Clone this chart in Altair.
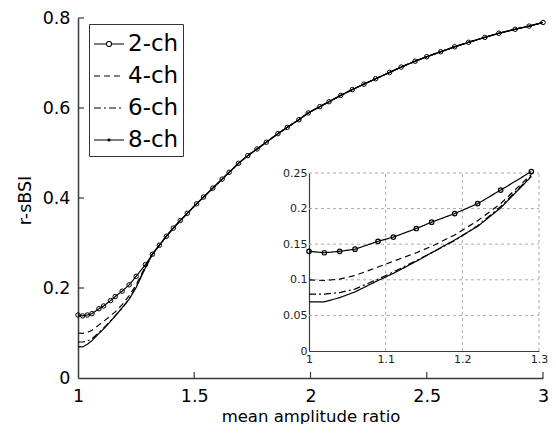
import altair as alt
import pandas as pd

# ---------------- data ----------------
series = ["2-ch", "4-ch", "6-ch", "8-ch"]

x_low = [1.00, 1.02, 1.04, 1.06, 1.09, 1.11, 1.14, 1.16, 1.19, 1.22, 1.25, 1.29]
low_2ch = [0.140, 0.138, 0.140, 0.143, 0.154, 0.160, 0.172, 0.181, 0.193, 0.207, 0.226, 0.252]
low_4ch = [0.100, 0.099, 0.101, 0.106, 0.118, 0.126, 0.138, 0.147, 0.163, 0.183, 0.207, 0.248]
low_6ch = [0.080, 0.080, 0.082, 0.087, 0.101, 0.111, 0.127, 0.138, 0.155, 0.176, 0.203, 0.246]
low_8ch = [0.069, 0.069, 0.075, 0.083, 0.099, 0.109, 0.126, 0.138, 0.156, 0.175, 0.201, 0.245]

x_tail = [1.32, 1.35, 1.38, 1.41, 1.44, 1.47, 1.51, 1.54, 1.58, 1.62, 1.65, 1.69,
          1.73, 1.77, 1.81, 1.86, 1.90, 1.95, 1.99, 2.04, 2.08, 2.13, 2.18, 2.23,
          2.28, 2.34, 2.39, 2.45, 2.50, 2.56, 2.62, 2.68, 2.75, 2.81, 2.88, 2.94, 3.00]
y_tail = [0.275, 0.295, 0.315, 0.333, 0.350, 0.366, 0.387, 0.402, 0.422, 0.442, 0.457, 0.477,
          0.494, 0.509, 0.524, 0.543, 0.557, 0.574, 0.589, 0.603, 0.614, 0.628, 0.641, 0.653,
          0.665, 0.679, 0.691, 0.704, 0.714, 0.725, 0.736, 0.746, 0.757, 0.766, 0.775, 0.782, 0.790]

main_x_domain = [1, 3]
main_y_domain = [0, 0.8]
main_x_ticks = [1, 1.5, 2, 2.5, 3]
main_y_ticks = [0, 0.2, 0.4, 0.6, 0.8]

inset_x_domain = [1, 1.3]
inset_y_domain = [0, 0.25]
inset_x_ticks = [1, 1.1, 1.2, 1.3]
inset_y_ticks = [0, 0.05, 0.1, 0.15, 0.2, 0.25]

# ---------------- styles ----------------
FONT = "DejaVu Sans"
AXIS_COLOR = "#3a3a3a"
DASH = {"2-ch": [1, 0], "4-ch": [6, 4], "6-ch": [7, 3, 2, 3], "8-ch": [1, 0]}
LEGEND_PATHS = {
    "2-ch": "M-1,0H-0.17M0.17,0H1M0.17,0A0.17,0.17 0 1 1 -0.17,0A0.17,0.17 0 1 1 0.17,0",
    "4-ch": "M-1,0H1",
    "6-ch": "M-1,0H1",
    "8-ch": "M-1,0H1M0.07,0A0.07,0.07 0 1 1 -0.07,0A0.07,0.07 0 1 1 0.07,0",
}
W, H = 465, 360
INSET_X_RANGE = [231, 461]
INSET_Y_RANGE = [333, 155]

low = {"2-ch": low_2ch, "4-ch": low_4ch, "6-ch": low_6ch, "8-ch": low_8ch}
rows = []
for s in series:
    for xv, yv in zip(x_low + x_tail, low[s] + y_tail):
        rows.append({"series": s, "x": xv, "y": yv})
df = pd.DataFrame(rows)

# ---------------- main plot ----------------
mx = alt.Scale(domain=main_x_domain, nice=False, zero=False)
my = alt.Scale(domain=main_y_domain, nice=False, zero=False)
ax_x = alt.Axis(values=main_x_ticks, format="~g", ticks=False, tickSize=0, grid=False,
                labelPadding=9, labelFont=FONT, labelFontSize=17.5, labelColor="black",
                labelFlush=False, labelOverlap=False,
                domainColor=AXIS_COLOR, domainWidth=1.5,
                title="mean amplitude ratio", titleFont=FONT, titleFontSize=16.5,
                titleFontWeight="normal", titleColor="black", titleY=43,
                titleBaseline="alphabetic")
ax_y = alt.Axis(values=main_y_ticks, format="~g", ticks=False, tickSize=0, grid=False,
                labelPadding=8, labelFont=FONT, labelFontSize=17.5, labelColor="black",
                labelFlush=False, labelOverlap=False,
                domainColor=AXIS_COLOR, domainWidth=1.5,
                title="r-sBSI", titleFont=FONT, titleFontSize=17.5,
                titleFontWeight="normal", titleColor="black", titleX=-53, titleY=182,
                titleAngle=270, titleBaseline="middle", titleAlign="center")

leg = alt.Legend(orient="none", legendX=11, legendY=6, title=None,
                 strokeColor="#333", fillColor="white", padding=4,
                 labelFont=FONT, labelFontSize=23, labelColor="black", labelOffset=3,
                 symbolSize=900, symbolStrokeWidth=1.1, symbolOpacity=1,
                 symbolStrokeColor="black", symbolFillColor="transparent", rowPadding=4)
dash_scale = alt.Scale(domain=series, range=[DASH[s] for s in series])
shape_scale = alt.Scale(domain=series, range=[LEGEND_PATHS[s] for s in series])

lines = alt.Chart(df).mark_line(strokeWidth=1.2, color="black", opacity=1).encode(
    x=alt.X("x:Q", scale=mx, axis=ax_x),
    y=alt.Y("y:Q", scale=my, axis=ax_y),
    strokeDash=alt.StrokeDash("series:N", scale=dash_scale, legend=leg),
)
pts = alt.Chart(df).transform_filter(alt.datum.series == "2-ch").mark_point(
    shape="circle", size=20, filled=False, color="black", strokeWidth=1, opacity=1
).encode(
    x=alt.X("x:Q", scale=mx, axis=ax_x),
    y=alt.Y("y:Q", scale=my, axis=ax_y),
)
# legend-only layer: gives the legend its line+marker symbols (draws no points)
legend_layer = alt.Chart(df).transform_filter("false").mark_point(
    filled=False, color="black", strokeWidth=1.1, size=900, opacity=1
).encode(
    x=alt.X("x:Q", scale=mx, axis=ax_x),
    y=alt.Y("y:Q", scale=my, axis=ax_y),
    shape=alt.Shape("series:N", scale=shape_scale, legend=leg),
)

xt_df = pd.DataFrame({"v": main_x_ticks[1:], "base": main_y_domain[0]})
xt = alt.Chart(xt_df).mark_tick(orient="vertical", size=6, thickness=1.2, yOffset=-3,
                                color=AXIS_COLOR, opacity=1).encode(
    x=alt.X("v:Q", scale=mx, axis=ax_x),
    y=alt.Y("base:Q", scale=my, axis=ax_y),
)
yt_df = pd.DataFrame({"v": main_y_ticks[1:], "base": main_x_domain[0]})
yt = alt.Chart(yt_df).mark_tick(orient="horizontal", size=6, thickness=1.2, xOffset=3,
                                color=AXIS_COLOR, opacity=1).encode(
    y=alt.Y("v:Q", scale=my, axis=ax_y),
    x=alt.X("base:Q", scale=mx, axis=ax_x),
)

main = alt.layer(lines, pts, xt, yt, legend_layer)

# ---------------- inset ----------------
ix = alt.Scale(domain=inset_x_domain, range=INSET_X_RANGE, nice=False, zero=False)
iy = alt.Scale(domain=inset_y_domain, range=INSET_Y_RANGE, nice=False, zero=False)
iax_x = alt.Axis(orient="bottom", offset=-(H - INSET_Y_RANGE[0]), values=inset_x_ticks,
                 format="~g", ticks=False, tickSize=0, grid=False, labelPadding=2,
                 labelFont=FONT, labelFontSize=11, labelColor="#222", labelFlush=False,
                 labelOverlap=False, domainColor=AXIS_COLOR, domainWidth=1.2, title=None)
iax_y = alt.Axis(orient="left", offset=-INSET_X_RANGE[0], values=inset_y_ticks,
                 format="~g", ticks=False, tickSize=0, grid=False, labelPadding=2,
                 labelFont=FONT, labelFontSize=11, labelColor="#222", labelFlush=False,
                 labelOverlap=False, domainColor=AXIS_COLOR, domainWidth=1.2, title=None)

gv_df = pd.DataFrame({"v": inset_x_ticks[1:], "lo": inset_y_domain[0], "hi": inset_y_domain[1]})
gh_df = pd.DataFrame({"v": inset_y_ticks[1:], "lo": inset_x_domain[0], "hi": inset_x_domain[1]})
gv = alt.Chart(gv_df).mark_rule(color="#aaaaaa", strokeDash=[3, 3], strokeWidth=1).encode(
    x=alt.X("v:Q", scale=ix, axis=iax_x),
    y=alt.Y("lo:Q", scale=iy, axis=iax_y),
    y2="hi:Q",
)
gh = alt.Chart(gh_df).mark_rule(color="#aaaaaa", strokeDash=[3, 3], strokeWidth=1).encode(
    y=alt.Y("v:Q", scale=iy, axis=iax_y),
    x=alt.X("lo:Q", scale=ix, axis=iax_x),
    x2="hi:Q",
)
inset_df = df[df["x"] <= inset_x_domain[1]]
ilines = alt.Chart(inset_df).mark_line(strokeWidth=1.2, color="black", opacity=1).encode(
    x=alt.X("x:Q", scale=ix, axis=iax_x),
    y=alt.Y("y:Q", scale=iy, axis=iax_y),
    strokeDash=alt.StrokeDash("series:N", scale=dash_scale, legend=leg),
)
ipts = alt.Chart(inset_df).transform_filter(alt.datum.series == "2-ch").mark_point(
    shape="circle", size=20, filled=False, color="black", strokeWidth=1.2, opacity=1
).encode(
    x=alt.X("x:Q", scale=ix, axis=iax_x),
    y=alt.Y("y:Q", scale=iy, axis=iax_y),
)
inset = alt.layer(gv, gh, ilines, ipts)

chart = alt.layer(main, inset).resolve_scale(x="independent", y="independent").properties(
    width=W, height=H,
    padding={"left": 70, "top": 10, "right": 5, "bottom": 46},
    autosize=alt.AutoSizeParams(type="none"),
    background="white",
).configure_view(strokeWidth=0)

chart.save("out.html", embed_options={"renderer": "svg", "actions": False})
